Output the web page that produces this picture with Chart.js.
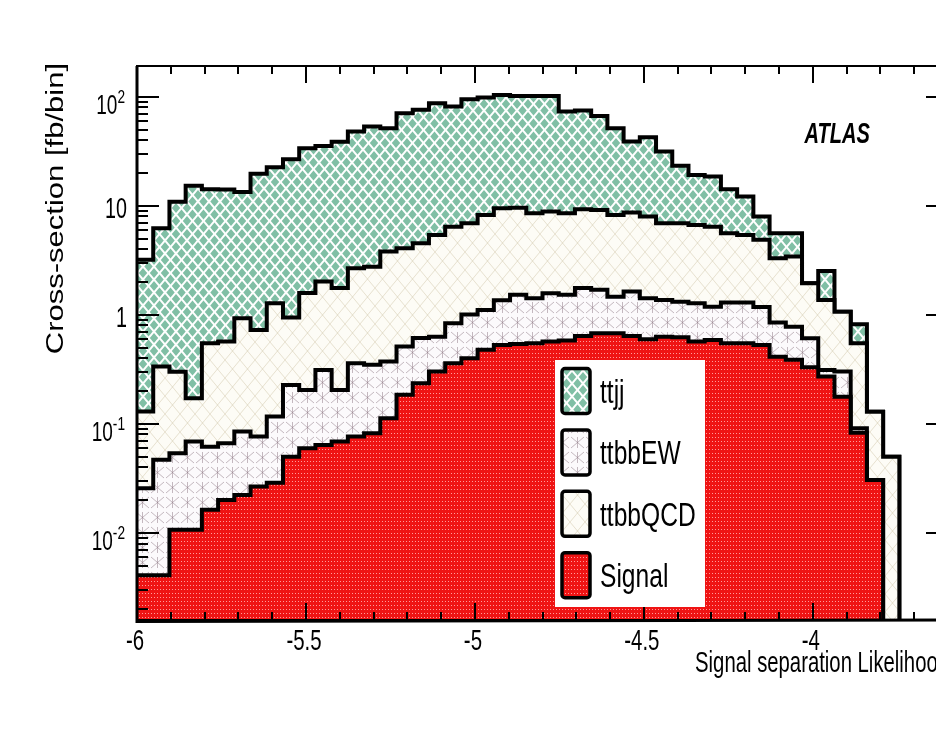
<!DOCTYPE html>
<html><head><meta charset="utf-8">
<script src="https://cdn.jsdelivr.net/npm/chart.js@4.4.1/dist/chart.umd.min.js"></script>
<style>
html,body{margin:0;padding:0;background:#fff;overflow:hidden;}
#wrap{width:936px;height:746px;overflow:hidden;position:relative;background:#fff;}
canvas{display:block;}
</style></head><body>
<div id="wrap"><canvas id="c" width="960" height="746"></canvas></div>
<script>
// ---------------- DATA ----------------
const binEdges = [-6,-5.952,-5.904,-5.856,-5.808,-5.76,-5.712,-5.664,-5.616,-5.568,
  -5.52,-5.472,-5.424,-5.376,-5.328,-5.28,-5.232,-5.184,-5.136,-5.088,
  -5.04,-4.992,-4.944,-4.896,-4.848,-4.8,-4.752,-4.704,-4.656,-4.608,
  -4.56,-4.512,-4.464,-4.416,-4.368,-4.32,-4.272,-4.224,-4.176,-4.128,
  -4.08,-4.032,-3.984,-3.936,-3.888,-3.84,-3.792,-3.744,-3.696,-3.648,-3.6];

const signal = [0.0041,0.0041,0.0107,0.0107,0.0163,0.0201,0.0223,0.0266,0.0289,0.050,
  0.0598,0.0642,0.0689,0.0765,0.0822,0.113,0.185,0.236,0.302,0.360,
  0.401,0.478,0.531,0.542,0.550,0.569,0.581,0.642,0.679,0.679,
  0.642,0.598,0.632,0.624,0.569,0.590,0.550,0.550,0.531,0.414,
  0.387,0.331,0.272,0.178,0.0832,0.0306,0,0,0,0];

const ttbbEW = [0.0216,0.0427,0.0431,0.0582,0.0456,0.0464,0.0627,0.0499,0.0881,0.178,
  0.145,0.249,0.136,0.284,0.266,0.260,0.327,0.379,0.330,0.479,
  0.609,0.632,0.829,0.988,0.870,1.01,0.949,1.12,1.02,0.791,
  0.998,0.822,0.738,0.696,0.711,0.600,0.750,0.750,0.649,0.436,
  0.393,0.279,0.041,0.124,0.0082,0,0,0,0,0];

const ttbbQCD = [0.104,0.289,0.248,0.103,0.488,0.503,0.848,0.652,1.16,0.720,
  1.38,1.71,1.56,2.32,2.42,3.44,3.58,3.94,4.79,5.61,
  5.93,7.16,8.16,8.07,7.15,7.29,7.04,7.57,7.49,6.80,
  7.04,6.56,5.57,5.62,5.41,5.26,4.32,4.12,3.70,2.46,
  2.65,1.34,1.06,0.768,0.459,0.099,0.050,0,0,0];

const ttjj = [3.07,5.90,10.6,15.1,13.7,13.6,12.5,19.0,21.3,25.9,
  32.2,33.5,37.1,45.4,50.6,47.8,66.7,71.5,82.1,75.0,
  88.4,90.3,94.5,92.4,93.4,93.1,64.7,65.5,57.7,43.3,
  30.2,34.7,24.6,16.4,12.5,12.2,8.58,6.78,3.10,2.31,
  2.19,0,1.16,0,0.27,0,0,0,0,0];

const legendNames = ['ttjj','ttbbEW','ttbbQCD','Signal'];
const xTickValues = [-6,-5.5,-5,-4.5,-4];
const xTickLabels = ['-6','-5.5','-5','-4.5','-4'];
const yTickValues = [0.01,0.1,1,10,100];
const yTickBase = ['10','10','1','10','10'];
const yTickExp = ['-2','-1','','','2'];
const xTitle = 'Signal separation Likelihood';
const yTitle = 'Cross-section [fb/bin]';
const tagText = 'ATLAS';

// ---------------- PATTERNS ----------------
const canvas = document.getElementById('c');
const mainCtx = canvas.getContext('2d');
function tile(w,h,draw){const c=document.createElement('canvas');c.width=w;c.height=h;const g=c.getContext('2d');draw(g,w,h);return mainCtx.createPattern(c,'repeat');}

const patGreen = tile(11,13,(g,w,h)=>{
  g.fillStyle='#ffffff'; g.fillRect(0,0,w,h);
  g.fillStyle='#80bfa5';
  const rx=w/2-1.3, ry=h/2-1.6;
  [[w/2,h/2],[0,0],[w,0],[0,h],[w,h]].forEach(([cx,cy])=>{
    g.beginPath();g.moveTo(cx,cy-ry);g.lineTo(cx+rx,cy);g.lineTo(cx,cy+ry);g.lineTo(cx-rx,cy);g.closePath();g.fill();
  });
});
const patCream = tile(15,18,(g,w,h)=>{
  g.fillStyle='#fdfcf6'; g.fillRect(0,0,w,h);
  g.strokeStyle='rgba(210,200,170,0.5)'; g.lineWidth=1;
  g.beginPath(); g.moveTo(0,0); g.lineTo(w,h); g.moveTo(w,0); g.lineTo(0,h); g.stroke();
});
const patEW = tile(15,15,(g,w,h)=>{
  g.fillStyle='#fcfafc'; g.fillRect(0,0,w,h);
  g.strokeStyle='rgba(150,130,140,0.55)'; g.lineWidth=1;
  g.beginPath(); g.moveTo(1,2); g.lineTo(w-1,h-2); g.moveTo(w-1,2); g.lineTo(1,h-2);
  g.moveTo(w/2,2); g.lineTo(w/2,h-2); g.stroke();
});
const patRed = tile(3,4,(g,w,h)=>{
  g.fillStyle='#ef1414'; g.fillRect(0,0,w,h);
  g.fillStyle='#ff9c9c'; g.fillRect(1,1,1,1);
});
const legendFills = {ttjj:patGreen, ttbbEW:patEW, ttbbQCD:patCream, Signal:patRed};

// ---------------- STACK ----------------
const cum1 = signal.slice();
const cum2 = cum1.map((v,i)=>v+ttbbEW[i]);
const cum3 = cum2.map((v,i)=>v+ttbbQCD[i]);
const cum4 = cum3.map((v,i)=>v+ttjj[i]);
const FLOOR = 1e-7;
function stepPoints(vals){
  const pts = vals.map((v,i)=>({x:binEdges[i], y: v>0?v:FLOOR}));
  pts.push({x:binEdges[vals.length], y:pts[pts.length-1].y});
  return pts;
}
const common = {borderColor:'#000', borderWidth:4, stepped:true, pointRadius:0, tension:0, fill:'start', clip:0, borderJoinStyle:'miter'};

// ---------------- TEXT HELPER ----------------
const FONT = '"Liberation Sans", Arial, sans-serif';
function txt(ctx,str,x,y,size,sx,align,style){
  ctx.save(); ctx.font=(style||'')+' '+size+'px '+FONT; ctx.translate(x,y); ctx.scale(sx,1);
  ctx.textAlign=align; ctx.textBaseline='alphabetic'; ctx.fillStyle='#000'; ctx.fillText(str,0,0); ctx.restore();
}
function txtWidth(ctx,str,size,sx,style){ctx.save();ctx.font=(style||'')+' '+size+'px '+FONT;const w=ctx.measureText(str).width*sx;ctx.restore();return w;}

const decorations = {
  id:'decorations',
  afterDraw(chart){
    const ctx=chart.ctx; const {left,top,right,bottom}=chart.chartArea; const xs=chart.scales.x, ys=chart.scales.y;
    ctx.save();
    ctx.strokeStyle='#000'; ctx.lineCap='butt';
    ctx.lineWidth=2; ctx.strokeRect(left,top,right-left,bottom-top);
    ctx.lineWidth=3;
    ctx.beginPath(); ctx.moveTo(left,top); ctx.lineTo(left,bottom+1.5); ctx.lineTo(right,bottom); ctx.stroke();
    ctx.lineWidth=2;
    for(let k=0;k<=24;k++){
      const v=-6+0.1*k; const px=Math.round(xs.getPixelForValue(v));
      const len = (k%5===0)?17:8;
      ctx.beginPath(); ctx.moveTo(px,bottom); ctx.lineTo(px,bottom-len);
      ctx.moveTo(px,top); ctx.lineTo(px,top+len); ctx.stroke();
    }
    for(let d=-3; d<=2; d++){
      for(let m=1;m<=9;m++){
        const v=m*Math.pow(10,d);
        if(v<ys.min||v>ys.max) continue;
        const py=Math.round(ys.getPixelForValue(v));
        const len=(m===1)?22:11;
        ctx.beginPath(); ctx.moveTo(left,py); ctx.lineTo(left+len,py);
        ctx.moveTo(right,py); ctx.lineTo(right-len,py); ctx.stroke();
      }
    }
    xTickValues.forEach((v,i)=>{ txt(ctx,xTickLabels[i],xs.getPixelForValue(v)-2,650,30,0.68,'center'); });
    yTickValues.forEach((v,i)=>{
      const py=ys.getPixelForValue(v);
      if(yTickExp[i]===''){
        txt(ctx,yTickBase[i],127,py+12,29,0.68,'right');
      } else {
        const supR=125; const sw=txtWidth(ctx,yTickExp[i],19,0.72);
        txt(ctx,yTickExp[i],supR,py+6.5,19,0.72,'right');
        txt(ctx,yTickBase[i],supR-sw,py+17.5,28,0.68,'right');
      }
    });
    txt(ctx,xTitle,right+1,672,29,0.70,'right');
    ctx.save(); ctx.font='31px '+FONT; ctx.translate(63,63); ctx.scale(0.78,1); ctx.rotate(-Math.PI/2);
    ctx.textAlign='right'; ctx.fillStyle='#000'; ctx.fillText(yTitle,0,0); ctx.restore();
    txt(ctx,tagText,870,143,30,0.67,'right','italic bold');
    ctx.fillStyle='#fff'; ctx.fillRect(555,360,150,247);
    legendNames.forEach((name,i)=>{
      const cy=391+61.4*i;
      ctx.fillStyle=legendFills[name]; ctx.fillRect(562,cy-22.5,28,45);
      ctx.lineWidth=3.5; ctx.strokeStyle='#000';
      ctx.beginPath(); ctx.roundRect(562,cy-22.5,28,45,3); ctx.stroke();
      txt(ctx,name,600,cy+12,33,0.745,'left');
    });
    ctx.restore();
  }
};

new Chart(canvas,{
  type:'line',
  data:{datasets:[
    Object.assign({label:'Signal', data:stepPoints(cum1), backgroundColor:patRed}, common),
    Object.assign({label:'ttbbEW', data:stepPoints(cum2), backgroundColor:patEW}, common),
    Object.assign({label:'ttbbQCD', data:stepPoints(cum3), backgroundColor:patCream}, common),
    Object.assign({label:'ttjj', data:stepPoints(cum4), backgroundColor:patGreen}, common)
  ]},
  options:{
    responsive:false, animation:false, devicePixelRatio:1, events:[],
    layout:{padding:{left:137, top:66, right:12, bottom:126}},
    scales:{
      x:{type:'linear', min:-6, max:-3.6, display:false},
      y:{type:'logarithmic', min:0.00159, max:192, display:false}
    },
    plugins:{legend:{display:false}, tooltip:{enabled:false}}
  },
  plugins:[decorations]
});
</script>
</body></html>
